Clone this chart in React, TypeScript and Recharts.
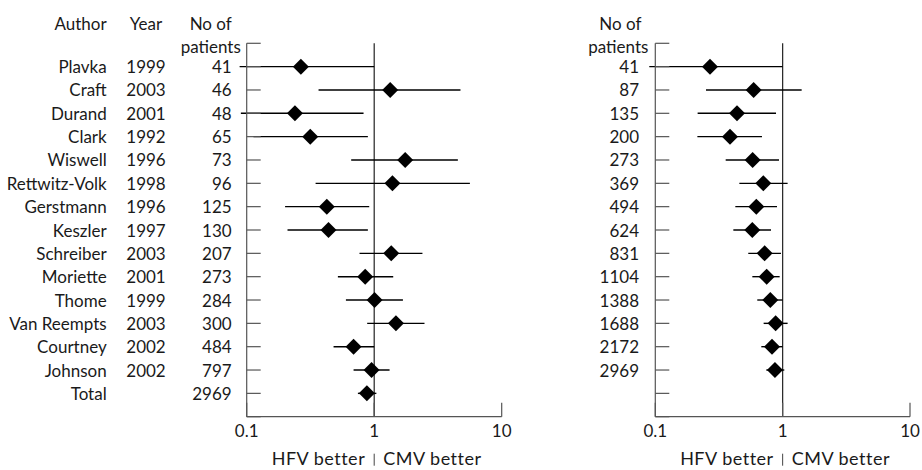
import React from 'react';
import { ScatterChart, Scatter, XAxis, YAxis, ReferenceLine } from 'recharts';

const authors = ['Plavka', 'Craft', 'Durand', 'Clark', 'Wiswell', 'Rettwitz-Volk', 'Gerstmann', 'Keszler', 'Schreiber', 'Moriette', 'Thome', 'Van Reempts', 'Courtney', 'Johnson', 'Total'];
const years = ['1999', '2003', '2001', '1992', '1996', '1998', '1996', '1997', '2003', '2001', '1999', '2003', '2002', '2002', ''];
const patients = [41, 46, 48, 65, 73, 96, 125, 130, 207, 273, 284, 300, 484, 797, 2969];
const studyOR = [0.266, 1.335, 0.239, 0.315, 1.75, 1.39, 0.425, 0.438, 1.36, 0.85, 1.006, 1.48, 0.689, 0.953, 0.876];
const studyLow = [0.088, 0.366, 0.09, 0.113, 0.66, 0.347, 0.2, 0.209, 0.767, 0.519, 0.6, 0.881, 0.48, 0.689, 0.745];
const studyHigh = [1.0, 4.75, 0.825, 0.892, 4.53, 5.63, 0.914, 0.892, 2.39, 1.41, 1.68, 2.48, 1.0, 1.32, 1.04];

const cumPatients = [41, 87, 135, 200, 273, 369, 494, 624, 831, 1104, 1388, 1688, 2172, 2969];
const cumOR = [0.269, 0.592, 0.438, 0.386, 0.581, 0.705, 0.621, 0.578, 0.722, 0.749, 0.8, 0.881, 0.825, 0.87];
const cumLow = [0.0897, 0.25, 0.215, 0.214, 0.357, 0.457, 0.425, 0.41, 0.537, 0.578, 0.632, 0.709, 0.68, 0.744];
const cumHigh = [1.0, 1.41, 0.887, 0.688, 0.936, 1.094, 0.903, 0.81, 0.97, 0.947, 1.0, 1.094, 1.0, 1.03];

const xTicks = [0.1, 1, 10];
const xTickLabels = ['0.1', '1', '10'];
const yTicks = [0, 1, 2, 3, 4, 5, 6, 7, 8, 9, 10, 11, 12, 13, 14, 15, 16];
const headerNo = 'No of';
const headerPatients = 'patients';
const leftLabel = 'HFV better';
const rightLabel = 'CMV better';

const FONT = 'Lato, sans-serif';
const FS = 17;
const AXIS = '#555';
const TEXT = '#1a1a1a';

const Diamond = (props: any) => {
  const { cx, cy } = props;
  const s = 8;
  return <path d={`M${cx},${cy - s}L${cx + s},${cy}L${cx},${cy + s}L${cx - s},${cy}Z`} fill="#000" />;
};

const XTick = (props: any) => {
  const { x, y, payload } = props;
  const v = payload.value;
  const idx = xTicks.findIndex((t) => Math.abs(t - v) < 1e-9);
  return (
    <g>
      <line x1={x} x2={x} y1={y} y2={y - 14} stroke={AXIS} strokeWidth={1.2} />
      <text x={x} y={y + 20} textAnchor="middle" fontSize={FS} fontFamily={FONT} fill={TEXT}>
        {xTickLabels[idx]}
      </text>
      {idx === 1 && (
        <g>
          <text x={x - 9} y={y + 48.5} textAnchor="end" fontSize={18} letterSpacing={0.5} fontFamily={FONT} fill={TEXT}>{leftLabel}</text>
          <line x1={x} x2={x} y1={y + 37} y2={y + 49} stroke="#444" strokeWidth={1} />
          <text x={x + 9} y={y + 48.5} textAnchor="start" fontSize={18} letterSpacing={0.5} fontFamily={FONT} fill={TEXT}>{rightLabel}</text>
        </g>
      )}
    </g>
  );
};

const textProps = { fontSize: FS, fontFamily: FONT, fill: TEXT };

const LeftYTick = (props: any) => {
  const { x, y, payload } = props;
  const i = payload.value;
  const r = i - 1;
  return (
    <g>
      <line x1={x} x2={x + 14} y1={y} y2={y} stroke={AXIS} strokeWidth={1.2} />
      {i === 0 && (
        <g>
          <text x={x - 140} y={y - 13.3} textAnchor="end" {...textProps}>Author</text>
          <text x={x - 100.7} y={y - 13.3} textAnchor="middle" {...textProps}>Year</text>
          <text x={x - 36} y={y - 13.3} textAnchor="middle" {...textProps}>{headerNo}</text>
          <text x={x - 36} y={y + 9.7} textAnchor="middle" {...textProps}>{headerPatients}</text>
        </g>
      )}
      {r >= 0 && r < authors.length && (
        <g>
          <text x={x - 140} y={y + 6.5} textAnchor="end" {...textProps}>{authors[r]}</text>
          <text x={x - 100.7} y={y + 6.5} textAnchor="middle" {...textProps}>{years[r]}</text>
          <text x={x - 15} y={y + 6.5} textAnchor="end" {...textProps}>{patients[r]}</text>
        </g>
      )}
    </g>
  );
};

const RightYTick = (props: any) => {
  const { x, y, payload } = props;
  const i = payload.value;
  const r = i - 1;
  return (
    <g>
      <line x1={x} x2={x + 14} y1={y} y2={y} stroke={AXIS} strokeWidth={1.2} />
      {i === 0 && (
        <g>
          <text x={x - 35} y={y - 13.3} textAnchor="middle" {...textProps}>{headerNo}</text>
          <text x={x - 37} y={y + 9.7} textAnchor="middle" {...textProps}>{headerPatients}</text>
        </g>
      )}
      {r >= 0 && r < cumPatients.length && (
        <text x={x - 16.3} y={y + 6.5} textAnchor="end" {...textProps}>{cumPatients[r]}</text>
      )}
    </g>
  );
};

const studyData = studyOR.map((v, i) => ({ x: v, y: i + 1 }));
const cumData = cumOR.map((v, i) => ({ x: v, y: i + 1 }));

function Panel(props: { width: number; yWidth: number; right: number; data: { x: number; y: number }[]; low: number[]; high: number[]; tick: any }) {
  const { width, yWidth, right, data, low, high, tick } = props;
  return (
    <ScatterChart width={width} height={470} margin={{ top: 43.3, right, bottom: 0, left: 0 }}>
      <XAxis
        type="number"
        dataKey="x"
        scale="log"
        domain={[0.1, 10]}
        allowDataOverflow
        ticks={xTicks}
        interval={0}
        height={53.3}
        tickSize={0}
        tickMargin={0}
        tickLine={false}
        axisLine={{ stroke: AXIS, strokeWidth: 1.2 }}
        tick={<XTick />}
      />
      <YAxis
        type="number"
        dataKey="y"
        domain={[0, 16]}
        reversed
        allowDataOverflow
        ticks={yTicks}
        interval={0}
        width={yWidth}
        tickSize={0}
        tickMargin={0}
        tickLine={false}
        axisLine={{ stroke: AXIS, strokeWidth: 1.2 }}
        tick={tick}
      />
      <ReferenceLine x={1} stroke="#222" strokeWidth={1.2} />
      {data.map((d, i) => (
        <ReferenceLine
          key={i}
          segment={[{ x: low[i], y: d.y }, { x: high[i], y: d.y }]}
          stroke="#000"
          strokeWidth={1.4}
          ifOverflow="visible"
        />
      ))}
      <Scatter data={data} shape={<Diamond />} isAnimationActive={false} />
    </ScatterChart>
  );
}

export default function App() {
  return (
    <div style={{ position: 'absolute', left: 0, top: 0, width: 922, height: 470, background: '#fff' }}>
      <div style={{ position: 'absolute', left: 0, top: 0 }}>
        <Panel width={520} yWidth={246.7} right={18.3} data={studyData} low={studyLow} high={studyHigh} tick={<LeftYTick />} />
      </div>
      <div style={{ position: 'absolute', left: 520, top: 0 }}>
        <Panel width={402} yWidth={135.3} right={12} data={cumData} low={cumLow} high={cumHigh} tick={<RightYTick />} />
      </div>
    </div>
  );
}
